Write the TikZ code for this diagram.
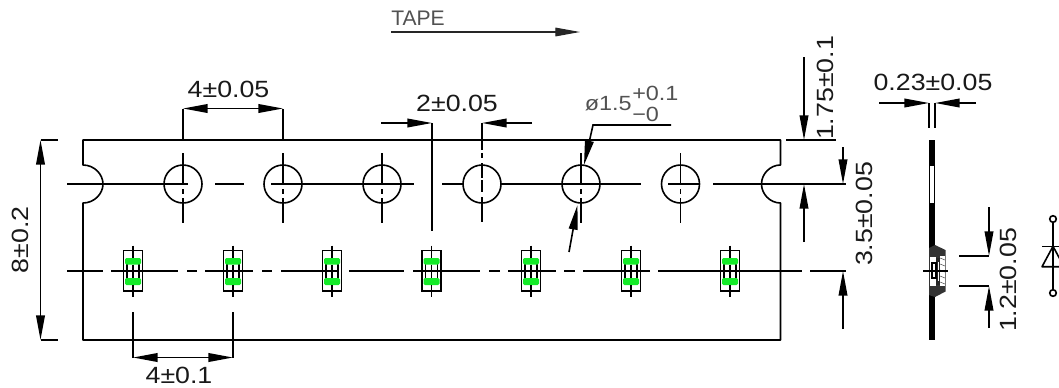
\documentclass[tikz,border=0pt]{standalone}
\usepackage{fontspec}
\usetikzlibrary{arrows.meta}
\setmainfont{Liberation Sans}
\newfontfamily\dimfnt[FakeStretch=1.14]{Liberation Sans}
\definecolor{padgreen}{RGB}{20,235,40}
\definecolor{thintext}{gray}{0.32}
\tikzset{
  ln/.style={line width=1.2pt,black},
  tipA/.tip={Triangle[length=18.5pt,width=6.5pt]},
  arr/.style={ln,-{tipA}},
  arrtwo/.style={ln,{tipA}-{tipA}},
  dimtext/.style={font=\dimfnt\fontsize{17.6}{19}\selectfont,inner sep=0pt,text=black!90},
  smalltext/.style={font=\dimfnt\fontsize{15.4}{17}\selectfont,inner sep=0pt,text=thintext},
  tapetext/.style={font=\fontsize{15.8}{18}\selectfont,inner sep=0pt,text=thintext},
}
\begin{document}
\begin{tikzpicture}[x=0.75pt,y=-0.75pt]
\useasboundingbox (0,0) rectangle (1059,387);
\clip (0,0) rectangle (1059,387);
\fill[white] (0,0) rectangle (1059,387);
% tape outline
\draw[ln,line join=round] (83,140) -- (780.5,140) -- (780.5,165)
  .. controls (770,165) and (761.5,174) .. (761.5,184)
  .. controls (761.5,194) and (770,203) .. (780.5,203)
  -- (780.5,340) -- (83,340) -- (83,203)
  .. controls (94,203) and (103,194) .. (103,184)
  .. controls (103,174) and (94,165) .. (83,165) -- cycle;
% sprocket holes
\foreach \x in {183,283,382,482,581,680.5}{
  \draw[ln] (\x,184) circle[radius=19];
}
\foreach \x in {183,283,382,581,680.5}{
  \draw[ln] (\x,153) -- (\x,184);
  \draw[ln] (\x,189) -- (\x,194);
  \draw[ln] (\x,198) -- (\x,223);
}
\draw[ln] (482,123) -- (482,150) (482,153) -- (482,158) (482,163) -- (482,178)
  (482,180) -- (482,192) (482,197) -- (482,222);
% upper centre line
\draw[ln] (67,184) -- (188,184) (215,184) -- (244,184) (271,184) -- (414,184)
  (442,184) -- (463,184) (500,184) -- (641,184) (668,184) -- (699,184) (713,184) -- (846,184);
% lower centre line
\draw[ln] (67,271) -- (103,271) (111,271) -- (178,271) (187,271) -- (197,271)
  (205,271) -- (253,271) (262,271) -- (272,271) (281,271) -- (338,271) (349,271) -- (404,271)
  (413,271) -- (480,271) (489,271) -- (500,271) (508,271) -- (556,271) (564,271) -- (575,271)
  (583,271) -- (650,271) (658,271) -- (802,271) (810,271) -- (846,271);
% components
\foreach \x in {133,233,332,431.5,531,631,730}{
  \draw[line width=1pt] (\x-6,258) -- (\x-6,285) (\x+6,258) -- (\x+6,285);
  \fill[padgreen,rounded corners=1pt] (\x-8,258) rectangle (\x+8,264.5);
  \fill[padgreen,rounded corners=1pt] (\x-8,278) rectangle (\x+8,285);
  \draw[line width=1.1pt] (\x-9.5,250.5) rectangle (\x+9.5,291);
  \draw[ln] (\x,245.5) -- (\x,258) (\x,264.5) -- (\x,278) (\x,285) -- (\x,297);
}
% 4+-0.05
\coordinate (a1) at (183,108.5); \coordinate (a2) at (283,108.5);
\draw[ln] (183,140) -- (a1) (283,140) -- (a2);
\draw[arrtwo] (a1) -- (a2);
\node[dimtext] (t405) at (228.5,89) {4±0.05};
% 4+-0.1
\coordinate (b1) at (133,357.5); \coordinate (b2) at (233,357.5);
\draw[ln] (133,312) -- (b1) (233,312) -- (b2);
\draw[arrtwo] (b1) -- (b2);
\node[dimtext] (t401) at (179,375.5) {4±0.1};
% 2+-0.05
\coordinate (c1) at (432,123); \coordinate (c2) at (482,123);
\coordinate (c3) at (381,123); \coordinate (c4) at (532,123);
\draw[ln] (c1) -- (432,231);
\draw[arr] (c3) -- (c1);
\draw[arr] (c4) -- (c2);
\node[dimtext] (t205) at (457,103) {2±0.05};
% diameter
\coordinate (d1) at (671,125); \coordinate (d2) at (593,125); \coordinate (d3) at (584,165);
\draw[ln,-{tipA}] (d1) -- (d2) -- (d3);
\coordinate (d4) at (569,252); \coordinate (d5) at (577.5,205);
\draw[arr] (d4) -- (d5);
\node[smalltext,anchor=base east] (tphi) at (632,110.5) {ø1.5};
\node[smalltext,anchor=base west] (tplus) at (632,100) {+0.1};
\node[smalltext,anchor=base west] (tminus) at (632,121) {−0};
% TAPE
\node[tapetext,anchor=base west] (ttape) at (391,25.5) {TAPE};
\coordinate (e1) at (391,32); \coordinate (e2) at (580,32);
\draw[arr,line width=0.8pt,black!85] (e1) -- (e2);
% 8+-0.2
\coordinate (f1) at (40.5,140); \coordinate (f2) at (40.5,340);
\draw[ln] (f1) -- (58,140) (f2) -- (58,340);
\draw[arrtwo] (f1) -- (f2);
\node[dimtext,rotate=90] (t802) at (20,240) {8±0.2};
% 1.75
\coordinate (g1) at (804,57); \coordinate (g2) at (804,140);
\draw[ln] (786,140) -- (836,140);
\draw[arr] (g1) -- (g2);
\node[dimtext,rotate=90] (t175) at (825,88) {1.75±0.1};
% 3.5
\coordinate (h1) at (843,147); \coordinate (h2) at (843,184);
\coordinate (h3) at (804,242); \coordinate (h4) at (804,184);
\coordinate (h5) at (843,329); \coordinate (h6) at (843,271);
\draw[arr] (h1) -- (h2);
\draw[arr] (h3) -- (h4);
\draw[arr] (h5) -- (h6);
\node[dimtext,rotate=90] (t35) at (864,214) {3.5±0.05};
% side view
\fill[black] (929,140) rectangle (935,340);
\fill[white] (930,166) rectangle (934,203);
\fill[black!80] (929,248) -- (935,245) -- (945.5,250) -- (945.5,291.5) -- (935,297) -- (929,295) -- cycle;
\fill[white] (930,257) rectangle (936,286);
\fill[white] (940,256) rectangle (944.5,286);
\foreach \yy in {258,264,...,284}{\draw[line width=0.4pt,black!70] (940,\yy) -- (945,\yy+2);}
\fill[black!85] (936,258) rectangle (940,285);
\fill[white] (937.5,262) rectangle (939,281);
\draw[line width=0.8pt] (932,263) rectangle (936,278);
\draw[ln] (923,271) -- (948,271);
% 0.23
\coordinate (i1) at (929,103); \coordinate (i2) at (935,103);
\coordinate (i3) at (879,103); \coordinate (i4) at (976,103);
\draw[ln] (i1) -- (929,128) (i2) -- (935,128);
\draw[arr] (i3) -- (i1);
\draw[arr] (i4) -- (i2);
\node[dimtext] (t023) at (933,82) {0.23±0.05};
% 1.2
\coordinate (j1) at (989,207); \coordinate (j2) at (989,256);
\coordinate (j3) at (989,328); \coordinate (j4) at (989,286);
\draw[ln] (959,256) -- (j2) (959,286) -- (j4);
\draw[arr] (j1) -- (j2);
\draw[arr] (j3) -- (j4);
\node[dimtext,rotate=90] (t12) at (1008,280) {1.2±0.05};
% diode
\draw[ln] (1053,219) circle[radius=3.3] (1053,293) circle[radius=3.3];
\draw[ln] (1053,222.3) -- (1053,289.7);
\draw[ln] (1042,246.3) -- (1064,246.3);
\draw[ln,line join=round] (1053,246.3) -- (1042,266.7) -- (1064,266.7) -- cycle;
\end{tikzpicture}
\end{document}
